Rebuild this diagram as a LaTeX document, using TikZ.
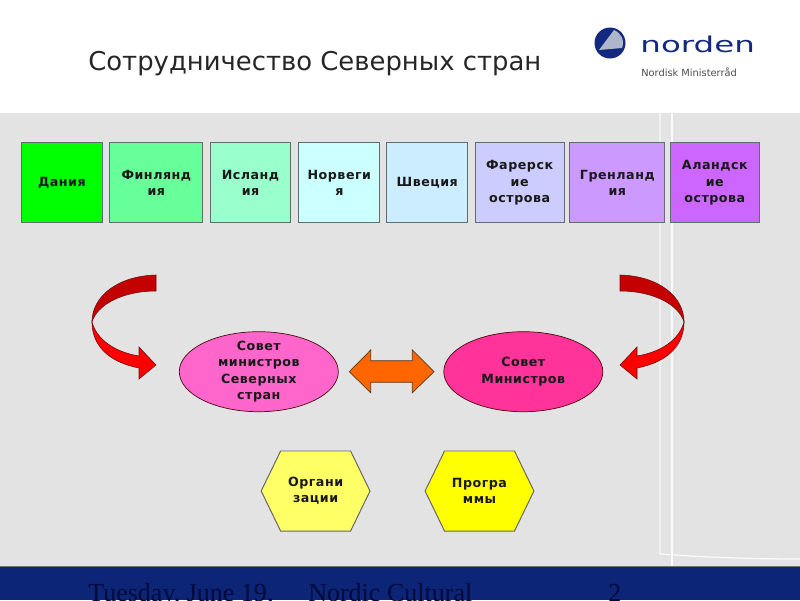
\documentclass[tikz,border=0pt]{standalone}
\usepackage{fontspec}
\setmainfont{DejaVu Sans}
\newfontfamily\footfont{Liberation Serif}
\newfontfamily\spacedfont[LetterSpace=4]{DejaVu Sans}
\usetikzlibrary{shapes.geometric,shapes.symbols}
\definecolor{PanelGray}{HTML}{E3E3E3}
\definecolor{FooterBlue}{HTML}{0C2577}
\definecolor{FooterInk}{HTML}{020A3C}
\definecolor{LogoNavy}{HTML}{12297F}
\definecolor{SailGray}{HTML}{AEB6CB}
\definecolor{EdgeGray}{HTML}{5E6E6E}
\definecolor{RibbonDark}{HTML}{C40000}
\definecolor{RibbonEdge}{HTML}{6A1010}
\newcommand{\ribbonarrow}{%
  \draw[ribbon,fill=RibbonDark] (156,275) .. controls (118,276) and (92,296) .. (92,322)
    .. controls (97,305) and (122,291) .. (156,291) -- cycle;
  \draw[ribbon,fill=red] (92,322) .. controls (92,345) and (108,362) .. (139,368)
    -- (139,379) -- (156,365) -- (139,347) -- (139,356)
    .. controls (115,352) and (97,340) .. (92,322) -- cycle;
}
\begin{document}
\begin{tikzpicture}[
    x=0.025cm,y=-0.025cm,
    box/.style={draw=EdgeGray,line width=0.7pt,minimum height=2cm,inner sep=0pt,align=center,
      font=\spacedfont\bfseries\fontsize{9}{11.6}\selectfont,text=black!90},
    council/.style={box,ellipse,inner sep=-3pt,draw=RibbonEdge!70!black,line width=0.5pt,minimum width=3.975cm},
    hexbox/.style={box,signal,signal to=west and east,signal pointer angle=128.2,
      draw=black!60,minimum width=2.72cm},
    ribbon/.style={draw=RibbonEdge,line width=0.4pt},
    seam/.style={white,line width=0.9pt,opacity=0.85}
  ]
    \useasboundingbox (0,0) rectangle (800,600);
    \fill[PanelGray] (0,113) rectangle (800,566);
    \draw[seam] (660,113) -- (660,554) .. controls (700,557) and (750,559) .. (800,559);
    \draw[seam] (672,113) -- (672,566);
    \fill[FooterBlue] (0,566) rectangle (800,600);
    \draw[black!55,line width=0.6pt] (0,566) -- (800,566);

    \node[anchor=west,inner sep=0pt,font=\fontsize{18.4}{22}\selectfont,text=black!85] (title) at (88,63.5) {Сотрудничество Северных стран};

    \fill[LogoNavy] (610,43) circle (15.5);
    \fill[SailGray] (614,30) .. controls (621,33) and (625,40) .. (622,48) -- (599,50) -- cycle;
    \node[anchor=west,inner sep=0pt,xscale=1.49,font=\fontsize{15.5}{18}\selectfont,text=LogoNavy] (norden) at (640,44.5) {norden};
    \node[anchor=west,inner sep=0pt,font=\fontsize{7}{8}\selectfont,text=black!70] (ministerrad) at (641,72) {Nordisk Ministerråd};

    \node[box,fill={rgb,255:red,0;green,255;blue,0},minimum width=2.01cm] (dania) at (61.85,182.7) {Дания};
    \node[box,fill={rgb,255:red,102;green,255;blue,153},minimum width=2.32cm] (finland) at (156.35,182.7) {Финлянд\\ия};
    \node[box,fill={rgb,255:red,153;green,255;blue,204},minimum width=2.02cm] (iceland) at (250.5,182.7) {Исланд\\ия};
    \node[box,fill={rgb,255:red,204;green,255;blue,255},minimum width=2.02cm] (norway) at (339.35,182.7) {Норвеги\\я};
    \node[box,fill={rgb,255:red,204;green,236;blue,255},minimum width=2.02cm] (sweden) at (427.2,182.7) {Швеция};
    \node[box,fill={rgb,255:red,204;green,204;blue,255},minimum width=2.22cm] (faroe) at (519.65,182.7) {Фарерск\\ие\\острова};
    \node[box,fill={rgb,255:red,204;green,153;blue,255},minimum width=2.37cm] (greenland) at (617.35,182.7) {Гренланд\\ия};
    \node[box,fill={rgb,255:red,204;green,102;blue,255},minimum width=2.22cm] (aland) at (714.8,182.7) {Аландск\\ие\\острова};

    \ribbonarrow
    \begin{scope}[shift={(776,0)},xscale=-1]
      \ribbonarrow
    \end{scope}

    \node[council,fill={rgb,255:red,255;green,102;blue,204}] (nordcouncil) at (258.8,371.7) {Совет\\министров\\Северных\\стран};
    \node[council,fill={rgb,255:red,255;green,51;blue,153}] (ministers) at (523.3,371.7) {Совет\\Министров};
    \draw[draw=black!55!brown,line width=0.5pt,fill={rgb,255:red,255;green,102;blue,0}] (349.3,371.7) -- (370.7,350) -- (370.7,360.7)
      -- (412.3,360.7) -- (412.3,350) -- (434,371.7) -- (412.3,392.7) -- (412.3,382.3) -- (370.7,382.3) -- (370.7,392.7) -- cycle;

    \node[hexbox,fill={rgb,255:red,255;green,255;blue,102}] (organizations) at (315.6,491) {Органи\\зации};
    \node[hexbox,fill={rgb,255:red,255;green,255;blue,0}] (programmes) at (479.5,491) {Програ\\ммы};

    \node[anchor=base west,inner sep=0pt,font=\footfont\fontsize{18.5}{22}\selectfont,text=FooterInk] (footdate) at (88,601) {Tuesday, June 19,};
    \node[anchor=base west,inner sep=0pt,font=\footfont\fontsize{18.5}{22}\selectfont,text=FooterInk] (footname) at (308,601) {Nordic Cultural};
    \node[anchor=base west,inner sep=0pt,font=\footfont\fontsize{18.5}{22}\selectfont,text=FooterInk] (footpage) at (608,601) {2};
\end{tikzpicture}
\end{document}
